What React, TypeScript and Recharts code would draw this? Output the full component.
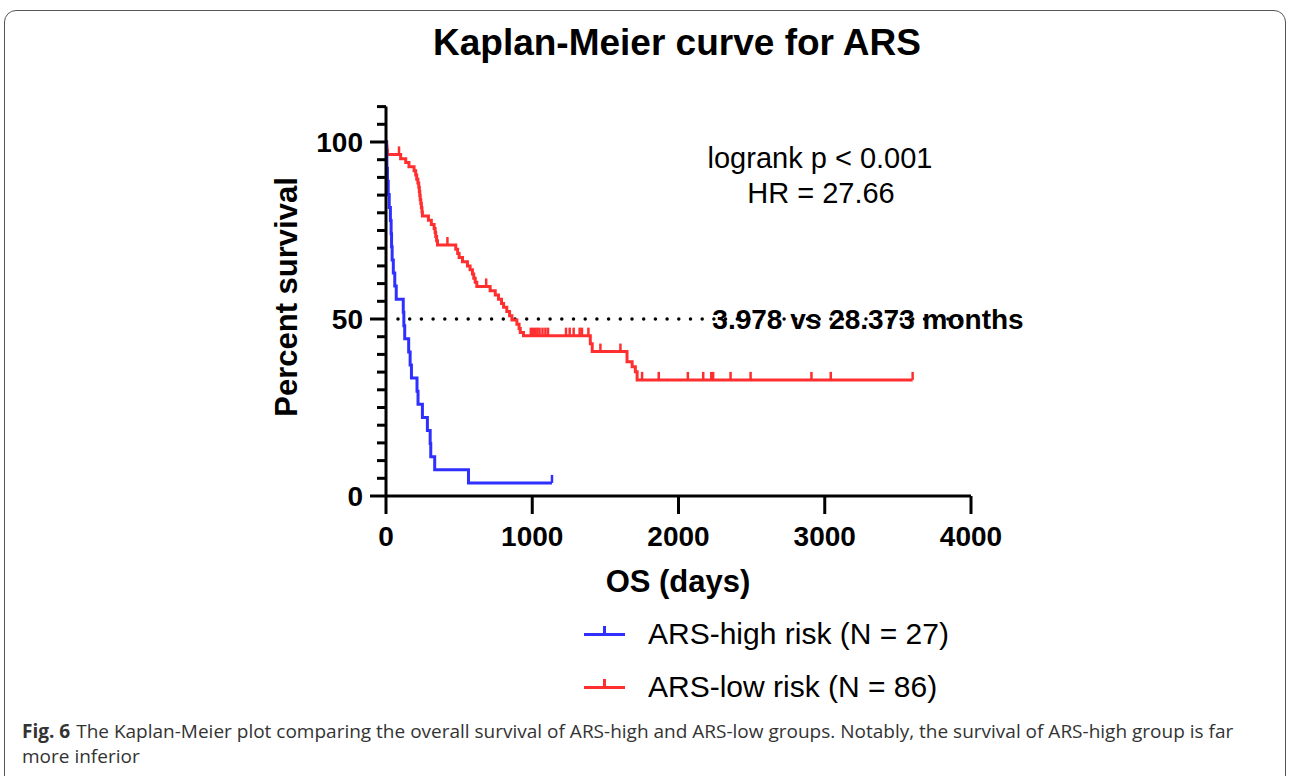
import React from 'react';
import { LineChart, Line, XAxis, YAxis, ReferenceLine } from 'recharts';

// ARS-high risk (N = 27): days, percent survival, censored flag
const highDays = [0, 3, 6, 10, 15, 22, 30, 35, 38, 42, 50, 60, 70, 118, 122, 128, 155, 165, 174, 212, 219, 249, 283, 302, 306, 333, 564, 1135];
const highSurv = [100, 96.3, 92.6, 88.9, 85.2, 81.5, 77.8, 74.1, 70.4, 66.7, 63.0, 59.3, 55.6, 51.9, 48.1, 44.4, 40.7, 37.0, 33.3, 29.6, 25.9, 22.2, 18.5, 14.8, 11.1, 7.4, 3.7, 3.7];
const highCens = [0, 0, 0, 0, 0, 0, 0, 0, 0, 0, 0, 0, 0, 0, 0, 0, 0, 0, 0, 0, 0, 0, 0, 0, 0, 0, 0, 1];

// ARS-low risk (N = 86)
const lowDays = [
  0, 5, 7, 10, 89, 100, 135, 157, 192, 203, 210, 218, 224, 228, 231, 234, 238, 242, 246, 249,
  290, 310, 329, 336, 340, 346, 352, 420, 477, 490, 500, 523, 557, 575, 591, 600, 610, 621, 685,
  712, 747, 769, 790, 804, 826, 845, 861, 895, 910, 918, 940,
  990, 1005, 1020, 1035, 1050, 1070, 1090, 1108, 1231, 1256, 1283, 1324, 1340, 1384,
  1397, 1410, 1466, 1603, 1648, 1683, 1705, 1717,
  1751, 1865, 2064, 2169, 2224, 2237, 2356, 2493, 2909, 3041, 3601,
];
const lowSurv = [
  100, 98.8, 97.7, 96.5, 96.5, 95.3, 94.2, 93.0, 91.9, 90.7, 89.5, 88.4, 87.2, 86.0, 84.9, 83.7, 82.6, 81.4, 80.2, 79.1,
  77.9, 76.7, 75.6, 74.4, 73.3, 72.1, 70.9, 70.9, 69.7, 68.5, 67.4, 66.2, 65.0, 63.9, 62.7, 61.5, 60.4, 59.2, 59.2,
  58.0, 56.8, 55.6, 54.4, 53.3, 52.1, 50.9, 49.7, 48.5, 47.3, 46.2, 45.3,
  45.3, 45.3, 45.3, 45.3, 45.3, 45.3, 45.3, 45.3, 45.3, 45.3, 45.3, 45.3, 45.3, 45.3,
  43.0, 40.8, 40.8, 40.8, 37.9, 36.5, 35.1, 32.8,
  32.8, 32.8, 32.8, 32.8, 32.8, 32.8, 32.8, 32.8, 32.8, 32.8, 32.8,
];
const lowCens = [
  0, 0, 0, 0, 1, 0, 0, 0, 0, 0, 0, 0, 0, 0, 0, 0, 0, 0, 0, 0,
  0, 0, 0, 0, 0, 0, 0, 1, 0, 0, 0, 0, 0, 0, 0, 0, 0, 0, 1,
  0, 0, 0, 0, 0, 0, 0, 0, 0, 0, 0, 0,
  1, 1, 1, 1, 1, 1, 1, 1, 1, 1, 1, 1, 1, 1,
  0, 0, 1, 1, 0, 0, 0, 0,
  1, 1, 1, 1, 1, 1, 1, 1, 1, 1, 1,
];

const xTicks = [0, 1000, 2000, 3000, 4000];
const yTicks = [0, 5, 10, 15, 20, 25, 30, 35, 40, 45, 50, 55, 60, 65, 70, 75, 80, 85, 90, 95, 100, 105, 110];
const yLabels = [0, 50, 100];

const BLUE = '#2f2fff';
const RED = '#ff2f2f';
const FONT = '"Liberation Sans", Arial, Helvetica, sans-serif';
const CAPTION_FONT = '"Open Sans", "Noto Sans", sans-serif';

const highData = highDays.map((t, i) => ({ t, s: highSurv[i], c: highCens[i] }));
const lowData = lowDays.map((t, i) => ({ t, s: lowSurv[i], c: lowCens[i] }));

const censorDot = (color: string) => (props: any) => {
  const { cx, cy, payload, index } = props;
  if (!payload || !payload.c) return <g key={`d${index}`} />;
  return <line key={`d${index}`} x1={cx} y1={cy} x2={cx} y2={cy - 8} stroke={color} strokeWidth={2.5} />;
};

const YTick = (props: any) => {
  const { x, y, payload } = props;
  const major = yLabels.includes(payload.value);
  return (
    <g>
      <line x1={x} y1={y} x2={x - (major ? 16 : 9)} y2={y} stroke="#000" strokeWidth={3} />
      {major && (
        <text x={x - 23} y={y + 10} textAnchor="end" fontSize={28} fontWeight="bold" fontFamily={FONT} fill="#000">
          {payload.value}
        </text>
      )}
    </g>
  );
};

const XTick = (props: any) => {
  const { x, y, payload } = props;
  return (
    <g>
      <line x1={x} y1={y} x2={x} y2={y + 18} stroke="#000" strokeWidth={3} />
      <text x={x} y={y + 50} textAnchor="middle" fontSize={28} fontWeight="bold" fontFamily={FONT} fill="#000">
        {payload.value}
      </text>
    </g>
  );
};

const Txt: React.FC<{ x: number; y: number; size: number; bold?: boolean; rotate?: boolean; children: React.ReactNode }> = ({ x, y, size, bold, rotate, children }) => (
  <div
    style={{
      position: 'absolute',
      left: x,
      top: y,
      transform: `translate(-50%, -50%)${rotate ? ' rotate(-90deg)' : ''}`,
      fontSize: size,
      fontWeight: bold ? 'bold' : 'normal',
      fontFamily: FONT,
      lineHeight: 1,
      whiteSpace: 'nowrap',
      color: '#000',
    }}
  >
    {children}
  </div>
);

const LegendItem: React.FC<{ y: number; color: string; label: string }> = ({ y, color, label }) => (
  <>
    <div style={{ position: 'absolute', left: 584, top: y - 1.5, width: 41, height: 3, background: color }} />
    <div style={{ position: 'absolute', left: 603, top: y - 8, width: 2.5, height: 8, background: color }} />
    <div
      style={{
        position: 'absolute',
        left: 648,
        top: y,
        transform: 'translateY(-50%)',
        fontSize: 30,
        fontFamily: FONT,
        lineHeight: 1,
        whiteSpace: 'nowrap',
        color: '#000',
      }}
    >
      {label}
    </div>
  </>
);

const captionStyle: React.CSSProperties = {
  position: 'absolute',
  left: 22,
  fontFamily: CAPTION_FONT,
  fontSize: 19,
  lineHeight: '25px',
  color: '#333',
  whiteSpace: 'nowrap',
};

export default function App() {
  return (
    <div style={{ position: 'absolute', left: 0, top: 0, width: 1290, height: 776, overflow: 'hidden', background: '#fff' }}>
      <div
        style={{
          position: 'absolute',
          left: 4,
          top: 10,
          width: 1282,
          height: 820,
          border: '1.5px solid #555',
          borderRadius: 12,
          boxSizing: 'border-box',
        }}
      />
      <div style={{ position: 'absolute', left: 0, top: 0 }}>
        <LineChart width={1290} height={776} margin={{ top: 106.6, right: 319, bottom: 230, left: 316 }}>
          <XAxis
            type="number"
            dataKey="t"
            domain={[0, 4000]}
            ticks={xTicks}
            height={50}
            tickSize={0}
            tickMargin={0}
            tickLine={false}
            axisLine={{ stroke: '#000', strokeWidth: 3 }}
            tick={<XTick />}
            allowDataOverflow
          />
          <YAxis
            type="number"
            domain={[0, 110]}
            ticks={yTicks}
            width={70}
            tickSize={0}
            tickMargin={0}
            tickLine={false}
            axisLine={{ stroke: '#000', strokeWidth: 3 }}
            tick={<YTick />}
            interval={0}
          />
          <ReferenceLine
            segment={[{ x: 82, y: 50 }, { x: 4000, y: 50 }]}
            stroke="#000"
            strokeWidth={3.5}
            strokeDasharray="0 11.7"
            strokeLinecap="round"
            ifOverflow="visible"
          />
          <Line
            data={lowData}
            dataKey="s"
            type="stepAfter"
            stroke={RED}
            strokeWidth={3}
            dot={censorDot(RED)}
            activeDot={false}
            isAnimationActive={false}
          />
          <Line
            data={highData}
            dataKey="s"
            type="stepAfter"
            stroke={BLUE}
            strokeWidth={3}
            dot={censorDot(BLUE)}
            activeDot={false}
            isAnimationActive={false}
          />
        </LineChart>
      </div>

      <Txt x={677} y={42} size={37} bold>Kaplan-Meier curve for ARS</Txt>
      <Txt x={286} y={297} size={31} bold rotate>Percent survival</Txt>
      <Txt x={678} y={581} size={31} bold>OS (days)</Txt>
      <Txt x={820} y={158} size={29}>logrank p &lt; 0.001</Txt>
      <Txt x={821} y={193} size={29}>HR = 27.66</Txt>
      <Txt x={868} y={320} size={28} bold>3.978 vs 28.373 months</Txt>

      <LegendItem y={634} color={BLUE} label="ARS-high risk (N = 27)" />
      <LegendItem y={687} color={RED} label="ARS-low risk (N = 86)" />

      <div style={{ ...captionStyle, top: 719, display: 'flex' }}>
        <span style={{ fontWeight: 'bold', marginRight: 6 }}>Fig. 6</span>
        <span>The Kaplan-Meier plot comparing the overall survival of ARS-high and ARS-low groups. Notably, the survival of ARS-high group is far</span>
      </div>
      <div style={{ ...captionStyle, top: 744 }}>more inferior</div>
    </div>
  );
}
